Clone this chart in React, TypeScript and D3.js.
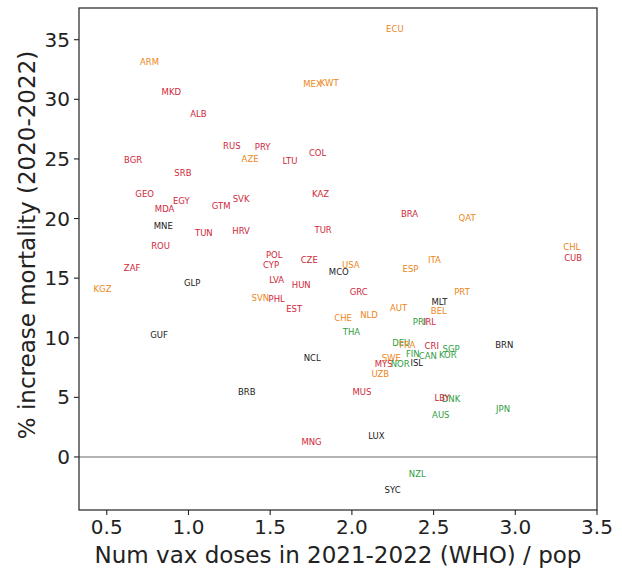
import React from "react";
import * as d3 from "d3";

const countries = ["ARM","MKD","ALB","RUS","PRY","AZE","LTU","COL","BGR","SRB","MEX","KWT","ECU","GEO","EGY","MDA","GTM","SVK","KAZ","MNE","TUN","HRV","TUR","ROU","POL","CYP","CZE","MCO","ZAF","GLP","KGZ","LVA","HUN","SVN","PHL","EST","CHE","GUF","BRA","QAT","CHL","CUB","USA","ITA","ESP","GRC","PRT","MLT","AUT","BEL","NLD","PRI","IRL","THA","NCL","BRB","MNG","DEU","FRA","CRI","SGP","BRN","FIN","CAN","KOR","SWE","MYS","NOR","ISL","UZB","MUS","DNK","LBY","JPN","AUS","LUX","NZL","SYC"];
const vaxDoses = [0.762,0.895,1.061,1.265,1.454,1.377,1.621,1.790,0.661,0.966,1.759,1.861,2.263,0.732,0.956,0.854,1.200,1.322,1.808,0.846,1.094,1.322,1.824,0.829,1.525,1.505,1.739,1.920,0.655,1.023,0.474,1.540,1.690,1.440,1.540,1.647,1.946,0.820,2.353,2.705,3.346,3.354,1.993,2.505,2.359,2.042,2.674,2.536,2.286,2.532,2.105,2.414,2.475,1.997,1.757,1.357,1.753,2.302,2.339,2.489,2.607,2.933,2.373,2.465,2.587,2.241,2.194,2.296,2.397,2.174,2.062,2.607,2.552,2.925,2.544,2.150,2.400,2.249];
const mortalityIncrease = [33.16,30.65,28.78,26.09,25.98,24.97,24.83,25.48,24.92,23.80,31.29,31.40,35.91,22.04,21.50,20.78,21.06,21.62,22.06,19.38,18.82,18.96,19.04,17.70,16.92,16.11,16.55,15.52,15.88,14.60,14.12,14.82,14.43,13.36,13.26,12.39,11.64,10.23,20.36,20.05,17.64,16.72,16.13,16.50,15.75,13.82,13.87,13.03,12.53,12.22,11.91,11.33,11.35,10.49,8.33,5.45,1.23,9.59,9.40,9.31,9.06,9.40,8.62,8.47,8.56,8.28,7.80,7.80,7.91,6.94,5.43,4.84,4.97,4.00,3.50,1.79,-1.45,-2.74];
// r = red, o = orange, g = green, k = black
const group = ["o","r","r","r","r","o","r","r","r","r","o","o","o","r","r","r","r","r","r","k","r","r","r","r","r","r","r","k","r","k","o","r","r","o","r","r","o","k","r","o","o","r","o","o","o","r","o","k","o","o","o","g","r","g","k","k","r","g","o","r","g","k","g","g","g","o","r","g","k","o","r","g","r","g","g","k","g","k"];

const xTicks = [0.5, 1.0, 1.5, 2.0, 2.5, 3.0, 3.5];
const yTicks = [0, 5, 10, 15, 20, 25, 30, 35];

const colors: Record<string, string> = { r: "#d0283a", o: "#ec8720", g: "#2f9e44", k: "#1a1a1a" };

export default function App() {
  const W = 622, H = 575;
  const left = 79, right = 597, top = 8, bottom = 510;
  const x = d3.scaleLinear().domain([0.33, 3.5]).range([left, right]);
  const y = d3.scaleLinear().domain([-4.45, 37.66]).range([bottom, top]);
  const font = "DejaVu Sans, sans-serif";
  return (
    <svg width={W} height={H} style={{ position: "absolute", left: 0, top: 0, background: "#fff" }} fontFamily={font}>
      <rect x={0} y={0} width={W} height={H} fill="#fff" />
      <line x1={left} x2={right} y1={y(0)} y2={y(0)} stroke="#9a9a9a" strokeWidth={1.5} />
      {countries.map((c, i) => (
        <text key={c} x={x(vaxDoses[i])} y={y(mortalityIncrease[i])} textAnchor="middle" dominantBaseline="central"
          fontSize={8.5} fill={colors[group[i]]}>{c}</text>
      ))}
      <rect x={left} y={top} width={right - left} height={bottom - top} fill="none" stroke="#222" strokeWidth={1.2} />
      {xTicks.map(t => (
        <g key={"x" + t}>
          <line x1={x(t)} x2={x(t)} y1={bottom} y2={bottom + 5} stroke="#222" strokeWidth={1.1} />
          <text x={x(t)} y={bottom + 9} textAnchor="middle" dominantBaseline="hanging" fontSize={20} fill="#222">{t.toFixed(1)}</text>
        </g>
      ))}
      {yTicks.map(t => (
        <g key={"y" + t}>
          <line x1={left - 5} x2={left} y1={y(t)} y2={y(t)} stroke="#222" strokeWidth={1.1} />
          <text x={left - 9} y={y(t)} textAnchor="end" dominantBaseline="central" fontSize={20} fill="#222">{t}</text>
        </g>
      ))}
      <text x={(left + right) / 2} y={555} textAnchor="middle" dominantBaseline="central" fontSize={23} fill="#222">Num vax doses in 2021-2022 (WHO) / pop</text>
      <text transform={`translate(27, ${(top + bottom) / 2 - 14}) rotate(-90)`} textAnchor="middle" dominantBaseline="central" fontSize={23} fill="#222">% increase mortality (2020-2022)</text>
    </svg>
  );
}
